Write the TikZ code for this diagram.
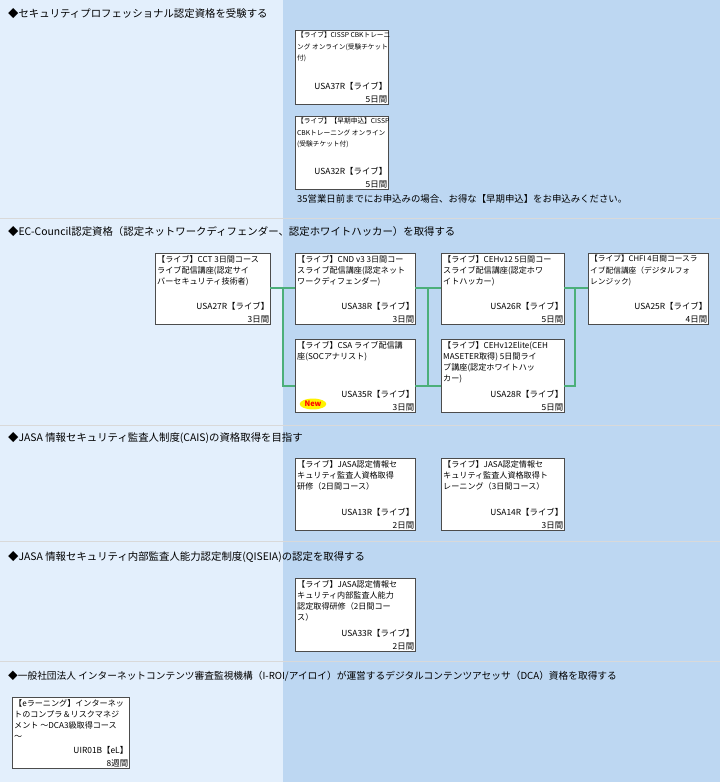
\documentclass[tikz,border=0pt]{standalone}
\usepackage{fontspec}
\setmainfont{Noto Sans CJK JP}
\usetikzlibrary{calc,shapes.geometric}
\definecolor{paneleft}{HTML}{E3EFFC}
\definecolor{paneright}{HTML}{BDD7F2}
\definecolor{linkgreen}{HTML}{4CAF7A}
\tikzset{
    coursebox/.style = {draw=black!70, fill=white, anchor=north west, inner sep=0pt},
    coursetext/.style = {anchor=north west, align=left, font=\fontsize{8.1}{11.2}\selectfont, inner sep=0pt},
    coursecode/.style = {anchor=south east, align=right, font=\fontsize{8.4}{13}\selectfont, inner sep=0pt},
    header/.style = {anchor=west, font=\fontsize{10.4}{12}\selectfont, inner sep=0pt},
    link/.style = {draw=linkgreen, line width=1.4pt}
}
\newcommand{\narrow}{\fontsize{6.7}{11.2}\selectfont}
% name, x, y, width, height, title, code, days
\newcommand{\course}[8]{
    \node[coursebox, minimum width=#4pt, minimum height=#5pt] (#1) at (#2,#3) {};
    \node[coursetext] (#1t) at ($(#1.north west)+(2,2)$) {#6};
    \node[coursecode] (#1c) at ($(#1.south east)+(-1,-1)$) {#7\\#8};
}

\begin{document}
\begin{tikzpicture}[x=1pt,y=-1pt]

    \fill[paneleft] (0,0) rectangle (283,782);
    \fill[paneright] (283,0) rectangle (720,782);
    \useasboundingbox (0,0) rectangle (720,782);

    \foreach \ysep in {218,425,541,661}
        \draw[white!70!gray, line width=0.6pt] (0,\ysep) -- (720,\ysep);

    % security professional
    \node[header] (h1) at (8,14) {◆セキュリティプロフェッショナル認定資格を受験する};
    \course{cissp}{295}{30}{93}{74}{\narrow【ライブ】CISSP CBKトレーニ\\\narrow ング オンライン(受験チケット\\\narrow 付)}{USA37R【ライブ】}{5日間}
    \course{cisspe}{295}{116}{93}{73}{\narrow【ライブ】【早期申込】CISSP\\\narrow CBKトレーニング オンライン\\\narrow (受験チケット付)}{USA32R【ライブ】}{5日間}
    \node[header, font=\fontsize{9.4}{11}\selectfont] (n1) at (297,199) {35営業日前までにお申込みの場合、お得な【早期申込】をお申込みください。};

    % EC-Council
    \node[header] (h2) at (8,232) {◆EC-Council認定資格（認定ネットワークディフェンダー、認定ホワイトハッカー）を取得する};
    \course{cct}{155}{253}{115}{71}{【ライブ】CCT 3日間コース\\ライブ配信講座(認定サイ\\バーセキュリティ技術者)}{USA27R【ライブ】}{3日間}
    \course{cnd}{295}{253}{120}{71}{【ライブ】CND v3 3日間コー\\スライブ配信講座(認定ネット\\ワークディフェンダー)}{USA38R【ライブ】}{3日間}
    \course{ceh}{441}{253}{123}{71}{【ライブ】CEHv12 5日間コー\\スライブ配信講座(認定ホワ\\イトハッカー)}{USA26R【ライブ】}{5日間}
    \course{chfi}{588}{253}{120}{71}{\fontsize{7.7}{11.2}\selectfont【ライブ】CHFI 4日間コースラ\\\fontsize{7.7}{11.2}\selectfont イブ配信講座（デジタルフォ\\\fontsize{7.7}{11.2}\selectfont レンジック)}{USA25R【ライブ】}{4日間}
    \course{csa}{295}{339}{120}{73}{【ライブ】CSA ライブ配信講\\座(SOCアナリスト)}{USA35R【ライブ】}{3日間}
    \course{cehe}{441}{339}{123}{73}{【ライブ】CEHv12Elite(CEH\\MASETER取得) 5日間ライ\\ブ講座(認定ホワイトハッ\\カー)}{USA28R【ライブ】}{5日間}
    \node[fill=yellow, ellipse, inner sep=1pt, font=\fontsize{7.5}{8}\selectfont\bfseries, text=red] (new) at (313,404) {New};

    \coordinate (j1a) at (283,288);
    \coordinate (j1b) at (283,386);
    \coordinate (j2a) at (428,288);
    \coordinate (j2b) at (428,386);
    \coordinate (j3a) at (575,288);
    \coordinate (j3b) at (575,386);
    \draw[link] (cct.east |- j1a) -- (j1a) -- (cnd.west |- j1a);
    \draw[link] (j1a) -- (j1b) -- (csa.west |- j1b);
    \draw[link] (cnd.east |- j2a) -- (j2a) -- (ceh.west |- j2a);
    \draw[link] (csa.east |- j2b) -- (j2b) -- (cehe.west |- j2b);
    \draw[link] (j2a) -- (j2b);
    \draw[link] (ceh.east |- j3a) -- (j3a) -- (chfi.west |- j3a);
    \draw[link] (j3a) -- (j3b) -- (cehe.east |- j3b);

    % JASA CAIS
    \node[header] (h3) at (8,438) {◆JASA 情報セキュリティ監査人制度(CAIS)の資格取得を目指す};
    \course{cais}{295}{458}{120}{72}{【ライブ】JASA認定情報セ\\キュリティ監査人資格取得\\研修（2日間コース）}{USA13R【ライブ】}{2日間}
    \course{caist}{441}{458}{123}{72}{【ライブ】JASA認定情報セ\\キュリティ監査人資格取得ト\\レーニング（3日間コース）}{USA14R【ライブ】}{3日間}

    % JASA QISEIA
    \node[header] (h4) at (8,557) {◆JASA 情報セキュリティ内部監査人能力認定制度(QISEIA)の認定を取得する};
    \course{qiseia}{295}{578}{120}{73}{【ライブ】JASA認定情報セ\\キュリティ内部監査人能力\\認定取得研修（2日間コー\\ス）}{USA33R【ライブ】}{2日間}

    % DCA
    \node[header, font=\fontsize{9.7}{11}\selectfont] (h5) at (8,676) {◆一般社団法人 インターネットコンテンツ審査監視機構（I-ROI/アイロイ）が運営するデジタルコンテンツアセッサ（DCA）資格を取得する};
    \course{dca}{12}{697}{117}{71}{【eラーニング】インターネッ\\トのコンプラ＆リスクマネジ\\メント ～DCA3級取得コース\\～}{UIR01B【eL】}{8週間}

\end{tikzpicture}
\end{document}
